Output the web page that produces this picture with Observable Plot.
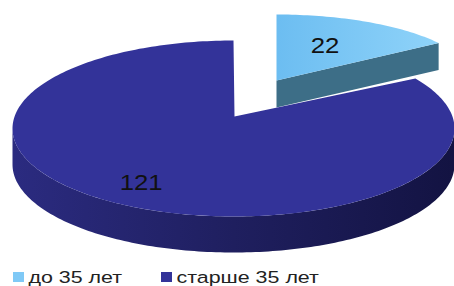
<!DOCTYPE html>
<html><head><meta charset="utf-8">
<script src="https://cdn.jsdelivr.net/npm/d3@7"></script>
<script src="https://cdn.jsdelivr.net/npm/@observablehq/plot@0.6"></script>
<style>
body{margin:0;background:#fff;}
</style></head><body><div id="chart"></div><script>
const categories = ["до 35 лет", "старше 35 лет"];
const values = [22, 121];
const topColors = ["#79c6f5", "#333399"];
const sideColors = ["#3d6e87", "#1f1f5f"];
const legendX = [13, 161];

// layout of the 3D-looking pie (pixel geometry, not data)
const shapes = [
  {cx: 276, cy: 80, tx: 276, ty: 80, rx: 197, ry: 66, depth: 27, lfx: 0.53, lfy: 0.6},
  {cx: 233, cy: 128, tx: 234, ty: 116, rx: 221, ry: 88, depth: 36, lfx: 0.9, lfy: 0.73}
];

const arcs = d3.pie().sort(null).startAngle(0).endAngle(2 * Math.PI)(values);

function rim(s, a, h = 0) { return {x: s.cx + s.rx * Math.sin(a), y: s.cy - s.ry * Math.cos(a) + h}; }
function arcPts(s, a0, a1, h = 0) {
  const n = Math.max(2, Math.ceil(Math.abs(a1 - a0) / 0.02));
  return d3.range(n + 1).map(i => rim(s, a0 + (a1 - a0) * i / n, h));
}

// small slice (exploded)
const sS = shapes[0], aS = arcs[0];
const smallSide = [
  {x: sS.tx, y: sS.ty}, rim(sS, aS.endAngle), rim(sS, aS.endAngle, sS.depth), {x: sS.tx, y: sS.ty + sS.depth}
];
const smallTop = [{x: sS.tx, y: sS.ty}, ...arcPts(sS, aS.startAngle, aS.endAngle)];

// big slice
const sB = shapes[1], aB = arcs[1];
const s0 = Math.max(aB.startAngle, Math.PI / 2), s1 = Math.min(aB.endAngle, 3 * Math.PI / 2);
const bigSide = [...arcPts(sB, s0, s1), ...arcPts(sB, s0, s1, sB.depth).reverse()];
const bigTop = [{x: sB.tx, y: sB.ty}, ...arcPts(sB, aB.startAngle, aB.endAngle)];

const labels = arcs.map((a, i) => {
  const s = shapes[i], mid = (a.startAngle + a.endAngle) / 2, r = rim(s, mid);
  return {x: s.tx + (r.x - s.tx) * s.lfx, y: s.ty + (r.y - s.ty) * s.lfy, text: String(values[i])};
});

const legend = categories.map((c, i) => ({name: c, x: legendX[i], color: topColors[i]}));

const svg = Plot.plot({
  width: 454, height: 286, margin: 0,
  style: {fontFamily: "'Liberation Sans', Arial, sans-serif", background: "#fff", overflow: "visible"},
  x: {domain: [0, 454], range: [0, 454], axis: null},
  y: {domain: [0, 286], range: [0, 286], axis: null},
  marks: [
    Plot.line(smallSide, {x: "x", y: "y", fill: sideColors[0], stroke: "none", curve: "linear"}),
    Plot.line(smallTop, {x: "x", y: "y", fill: "url(#gSmallTop)", stroke: "none", curve: "linear"}),
    Plot.line(bigSide, {x: "x", y: "y", fill: "url(#gBigSide)", stroke: "none", curve: "linear"}),
    Plot.line(bigTop, {x: "x", y: "y", fill: topColors[1], stroke: "none", curve: "linear"}),
    Plot.text(labels, {x: "x", y: "y", text: "text", fontSize: 23, fill: "#111", textAnchor: "middle", lineAnchor: "middle"}),
    Plot.rect(legend, {x1: "x", x2: d => d.x + 11, y1: 272, y2: 282, fill: (d, i) => i === 0 ? "#7fc9f6" : "#333399"}),
    Plot.text(legend, {x: d => d.x + 15, y: 282, text: "name", fontSize: 17, fill: "#222", textAnchor: "start", lineAnchor: "bottom"})
  ]
});

const defs = d3.select(svg).insert("defs", ":first-child");
const g1 = defs.append("linearGradient").attr("id", "gSmallTop").attr("gradientUnits", "userSpaceOnUse")
  .attr("x1", 276).attr("x2", 438).attr("y1", 0).attr("y2", 0);
g1.append("stop").attr("offset", 0).attr("stop-color", "#6cbdf1");
g1.append("stop").attr("offset", 1).attr("stop-color", "#8fd3f9");
const g2 = defs.append("linearGradient").attr("id", "gBigSide").attr("gradientUnits", "userSpaceOnUse")
  .attr("x1", 12).attr("x2", 454).attr("y1", 0).attr("y2", 0);
g2.append("stop").attr("offset", 0).attr("stop-color", "#2b2b80");
g2.append("stop").attr("offset", 0.5).attr("stop-color", sideColors[1]);
g2.append("stop").attr("offset", 1).attr("stop-color", "#131342");

// slight horizontal stretch of text like the reference
d3.select(svg).selectAll("text").each(function() {
  const t = this.getAttribute("transform") || "";
  const fs = this.getAttribute("font-size") || this.closest("g").getAttribute("font-size");
  const k = fs === "17" ? 1.26 : 1.12;
  this.setAttribute("transform", t + ` scale(${k},1)`);
});

document.getElementById("chart").append(svg);
</script></body></html>
